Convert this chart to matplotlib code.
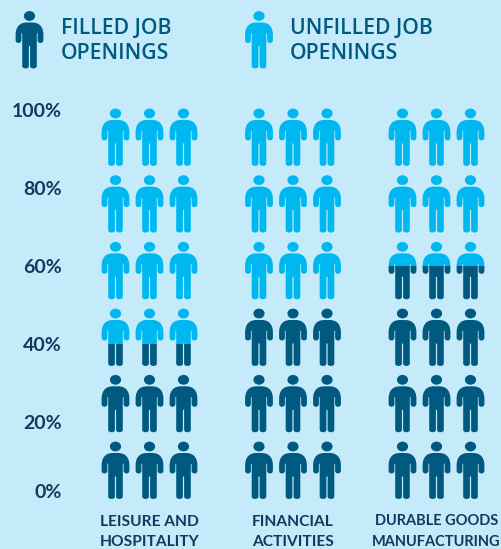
import matplotlib
matplotlib.use("Agg")
import matplotlib.pyplot as plt
from matplotlib.patches import PathPatch, Rectangle
from matplotlib.path import Path
from matplotlib.transforms import Affine2D

# share of job openings filled, by sector
sectors = ["LEISURE AND\nHOSPITALITY", "FINANCIAL\nACTIVITIES", "DURABLE GOODS\nMANUFACTURING"]
filled_pct = [40, 50, 60]
tick_vals = [0, 20, 40, 60, 80, 100]
tick_labels = ["0%", "20%", "40%", "60%", "80%", "100%"]
legend_labels = ["FILLED JOB\nOPENINGS", "UNFILLED JOB\nOPENINGS"]

BG = "#c5ebfb"
DARK = "#005a80"
LIGHT = "#00b8f0"
NAVY = "#17375e"

PX_PER_PCT = 3.9
BASE_PX = 500
group_x = [115.5, 259, 402.5]
person_gap = 34
row_tops = [15, 32.1, 49.1, 66.2, 83.3, 100.4]
sector_sizes = [11.2, 11.2, 10.5]


def make_person():
    # drawn in pixels, x from the centre line, y downwards from top of head
    head = Path.unit_circle().transformed(Affine2D().scale(5.6, 4.9).translate(0, 5))
    c3, ln = Path.CURVE4, Path.LINETO
    right = [
        (ln, (2.5, 11.5)),
        (c3, (9, 11.5)), (c3, (13.9, 15)), (c3, (13.9, 24)),
        (ln, (13.9, 29)),
        (c3, (13.9, 33)), (c3, (8.1, 33)), (c3, (8.1, 29)),
        (ln, (8.1, 23)),
        (c3, (8.1, 21.8)), (c3, (7.3, 21.8)), (c3, (7.3, 23)),
        (ln, (7.3, 55)),
        (c3, (7.3, 58.3)), (c3, (0.6, 58.3)), (c3, (0.6, 55)),
        (ln, (0.6, 35)),
    ]
    # left side runs back up: each point takes the code of the one after it
    pts = [p for _, p in right]
    cds = [c for c, _ in right]
    left_pts = [(-x, y) for x, y in reversed(pts)]
    left_cds = [ln] + list(reversed(cds[1:]))
    verts = [(0, 11.5)] + pts + left_pts + [(0, 11.5)]
    codes = [Path.MOVETO] + cds + left_cds + [Path.CLOSEPOLY]
    return Path.make_compound_path(head, Path(verts, codes))


PERSON = make_person()


def draw_person(ax, x, top, color, y0=None, y1=None):
    # top is the head's position on the percent scale
    tf = Affine2D().scale(1, -1 / PX_PER_PCT).translate(x, top) + ax.transData
    patch = PathPatch(PERSON, facecolor=color, edgecolor="none", transform=tf)
    ax.add_patch(patch)
    if y0 is not None:
        patch.set_clip_path(Rectangle((x - 20, y0), 40, y1 - y0, transform=ax.transData))


fig = plt.figure(figsize=(5.01, 5.49), dpi=100, facecolor=BG)
ax = fig.add_axes([0, 0, 1, 1])
ax.set_xlim(0, 501)
ax.set_ylim((BASE_PX - 549) / PX_PER_PCT, BASE_PX / PX_PER_PCT)
ax.axis("off")

for gx, share, name, size in zip(group_x, filled_pct, sectors, sector_sizes):
    for i in range(3):
        x = gx + i * person_gap
        for top in row_tops:
            draw_person(ax, x, top, DARK, -20, share)
            draw_person(ax, x, top, LIGHT, share, 130)
    ax.text(gx + person_gap, (BASE_PX - 548.6) / PX_PER_PCT, name, ha="center", va="bottom", color=NAVY,
            family="Lato", weight="bold", fontsize=size, linespacing=1.52 * 11.2 / size)

for val, lab in zip(tick_vals, tick_labels):
    # the 0% label sits a little above the base line
    y = val if val > 0 else (BASE_PX - 491) / PX_PER_PCT
    ax.text(62, y, lab, ha="right", va="center_baseline", color=NAVY,
            family="Lato", weight="bold", fontsize=14)

# legend
legend_top = (BASE_PX - 11) / PX_PER_PCT
for x, color, tx, lab in zip([29.5, 259], [DARK, LIGHT], [61, 290], legend_labels):
    draw_person(ax, x, legend_top, color)
    ax.text(tx, (BASE_PX - 41) / PX_PER_PCT, lab, ha="left", va="center", color=DARK,
            family="Open Sans", weight="semibold", fontsize=15.2, linespacing=1.22)

fig.savefig("out.png", dpi=100, facecolor=BG)
